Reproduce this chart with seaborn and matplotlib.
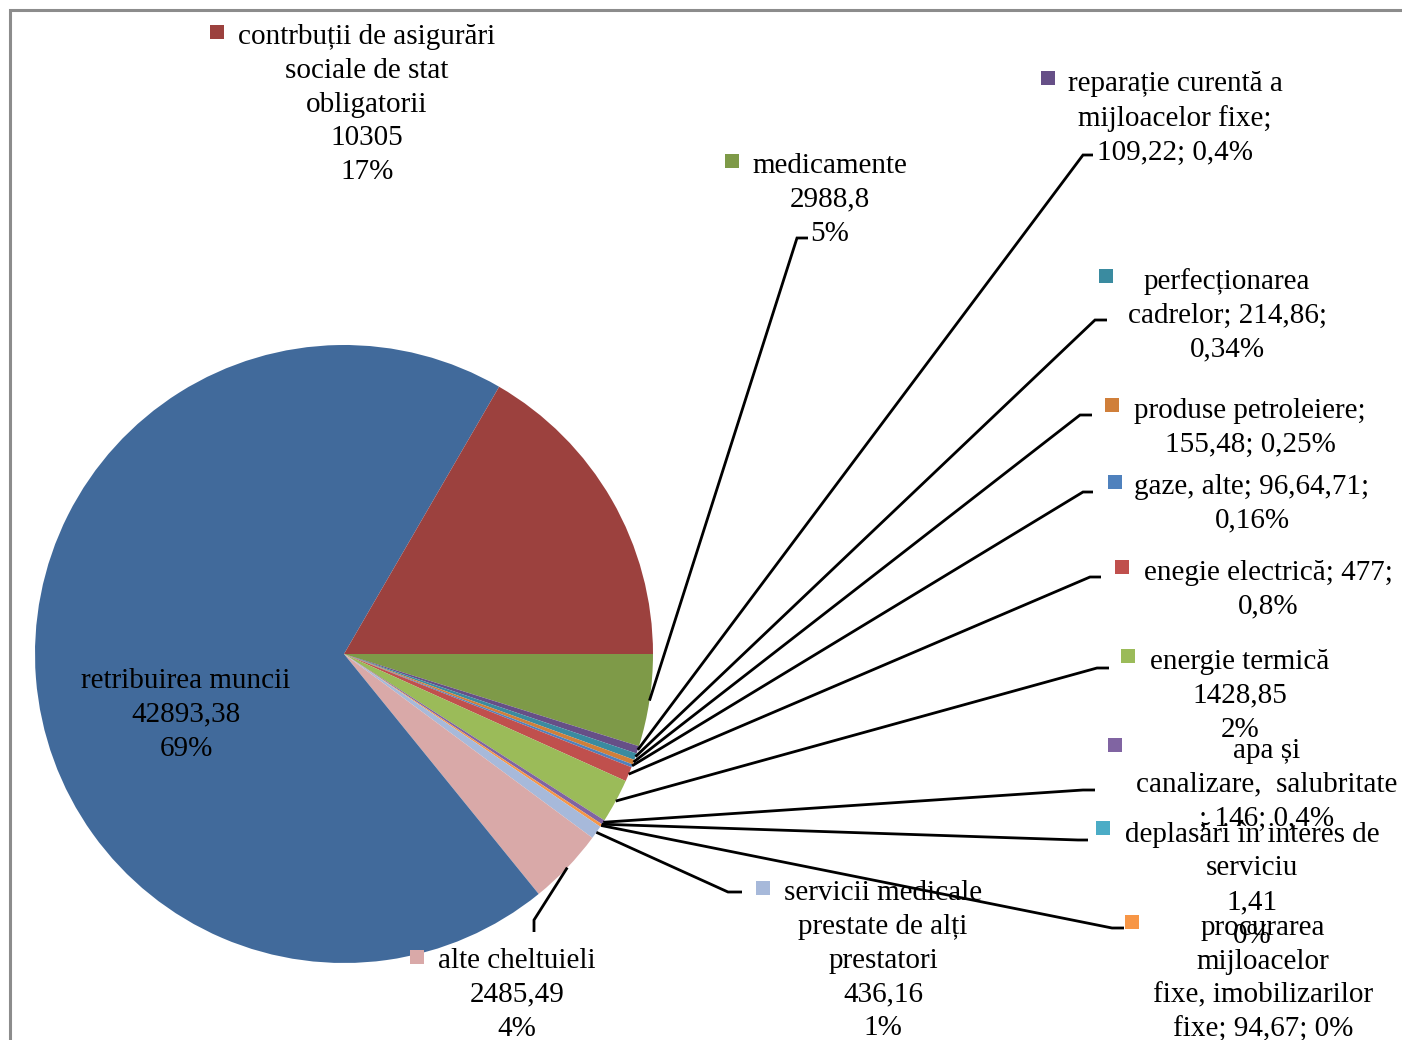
import matplotlib
matplotlib.use("Agg")
import matplotlib.pyplot as plt
import seaborn as sns
import numpy as np

sns.set_theme(style="white")
plt.rcParams['font.family'] = ['Liberation Serif', 'DejaVu Serif']

# ---- data (clockwise from 3 o'clock) ----
categories = [
    "medicamente", "reparație curentă a mijloacelor fixe", "perfecționarea cadrelor",
    "produse petroleiere", "gaze, alte", "enegie electrică", "energie termică",
    "apa și canalizare, salubritate", "deplasări în interes de serviciu",
    "procurarea mijloacelor fixe, imobilizarilor fixe",
    "servicii medicale prestate de alți prestatori", "alte cheltuieli",
    "retribuirea muncii", "contrbuții de asigurări sociale de stat obligatorii",
]
# slice sizes as drawn (the reparație slice is drawn at ~0,4%, as its label says)
values = [2988.8, 245.0, 214.86, 155.48, 96.64, 477, 1428.85, 146, 1.41, 94.67,
          436.16, 2485.49, 42893.38, 10305]
colors = ["#7E9A48", "#664F87", "#3A8BA0", "#D07F3A", "#4F81BD", "#C0504D", "#9BBB59",
          "#8064A2", "#4BACC6", "#F79646", "#A7B9DA", "#D9A9A8", "#416A9B", "#9C413E"]
label_texts = [
    "medicamente\n2988,8\n5%",
    "reparație curentă a\nmijloacelor fixe;\n109,22; 0,4%",
    "perfecționarea\ncadrelor; 214,86;\n0,34%",
    "produse petroleiere;\n155,48; 0,25%",
    "gaze, alte; 96,64,71;\n0,16%",
    "enegie electrică; 477;\n0,8%",
    "energie termică\n1428,85\n2%",
    "apa și\ncanalizare,  salubritate\n; 146; 0,4%",
    "deplasări în interes de\nserviciu\n1,41\n0%",
    "procurarea\nmijloacelor\nfixe, imobilizarilor\nfixe; 94,67; 0%",
    "servicii medicale\nprestate de alți\nprestatori\n436,16\n1%",
    "alte cheltuieli\n2485,49\n4%",
    "retribuirea muncii\n42893,38\n69%",
    "contrbuții de asigurări\nsociale de stat\nobligatorii\n10305\n17%",
]

# ---- layout (pixel positions, y from top) ----
W, H = 1402, 1040
def Y(y):
    return H - y

# text center x, first-line center y
text_pos = [(830, 163), (1175, 81), (1227, 278), (1250, 408), (1252, 484), (1268, 570),
            (1240, 659), (1267, 748), (1252, 831), (1263, 925), (883, 890), (517, 958),
            (186, 678), (367, 34)]
key_pos = [(732, 161), (1048, 78), (1106, 276), (1112, 405), (1115, 482), (1122, 567),
           (1128, 656), (1115, 745), (1103, 828), (1132, 922), (763, 888), (417, 957),
           None, (217, 32)]
# leader lines: elbow point, end point (None = no leader)
leaders = [((797, 238), (808, 238)), ((1083, 155), (1093, 155)), ((1095, 320), (1107, 320)),
           ((1080, 415), (1092, 415)), ((1083, 492), (1093, 492)), ((1090, 577), (1101, 577)),
           ((1097, 668), (1109, 668)), ((1083, 790), (1095, 790)), ((1078, 840), (1088, 840)),
           ((1112, 928), (1124, 928)), ((728, 892), (742, 892)), ((534, 920), (534, 932)),
           None, None]

fig = plt.figure(figsize=(W / 100, H / 100), dpi=100)
ax = fig.add_axes([0, 0, 1, 1])
cx, cy, R = 344, Y(654), 309
wedges, _ = ax.pie(values, colors=colors, startangle=0, counterclock=False,
                   center=(cx, cy), radius=R, wedgeprops=dict(linewidth=0))
ax.set_xlim(0, W)
ax.set_ylim(0, H)
ax.set_aspect('auto')
ax.axis('off')

fs = 21
for i, w in enumerate(wedges):
    ang = np.deg2rad((w.theta1 + w.theta2) / 2)
    x0, y0 = cx + R * np.cos(ang), cy + R * np.sin(ang)
    if leaders[i] is not None:
        (ex, ey), (fx, fy) = leaders[i]
        ax.plot([x0, ex, fx], [y0, Y(ey), Y(fy)], color="black", lw=2.0,
                solid_capstyle="butt", solid_joinstyle="miter", zorder=3)
    tx, ty = text_pos[i]
    ax.text(tx, Y(ty - 10), label_texts[i], ha="center", va="top", fontsize=fs,
            linespacing=1.39, color="black", zorder=4)
    if key_pos[i] is not None:
        kx, ky = key_pos[i]
        ax.plot([kx], [Y(ky)], marker="s", markersize=10, color=colors[i],
                markeredgewidth=0, linestyle="none", zorder=4)

# chart border (partially visible)
ax.plot([10, 10, W], [0, Y(10), Y(10)], color="#8C8C8C", lw=2.2, zorder=5,
        solid_joinstyle="miter")

fig.savefig("out.png", dpi=100)
